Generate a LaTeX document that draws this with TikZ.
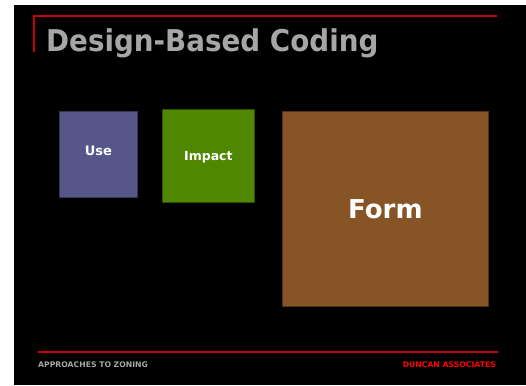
\documentclass[tikz,border=0pt]{standalone}
\usepackage{fontspec}
\setmainfont{DejaVu Sans}
\usetikzlibrary{positioning}
\definecolor{slidered}{HTML}{CC0000}
\definecolor{titlegray}{HTML}{A6A6A6}
\definecolor{usecol}{HTML}{57568A}
\definecolor{impactcol}{HTML}{4F8700}
\definecolor{formcol}{HTML}{875426}
\tikzset{>=latex}
\tikzset{block/.style={anchor=north west,fill=#1,draw=#1!60!black,line width=0.8pt,
    inner sep=0pt,text=white}}

\begin{document}
\begin{tikzpicture}[x=1pt,y=-1pt]
            \fill[white] (0,0) rectangle (526,385);
            \fill[black] (14,5) rectangle (526,385);
            % title bar
            \draw[slidered,line width=1.5pt] (34,52) -- (34,16) -- (497,16);
            \node[anchor=base west,inner sep=0pt,text=titlegray,font=\bfseries\fontsize{30}{30}\selectfont] (title) at (46,52) {\scalebox{0.925}[1]{Design-Based Coding}};
            % blocks
            \node[block=usecol,minimum width=78pt,minimum height=86pt,text depth=8pt,font=\bfseries\fontsize{13}{13}\selectfont] (use) at (59,111) {Use};
            \node[block=impactcol,minimum width=92pt,minimum height=93pt,text depth=-2pt,font=\bfseries\fontsize{12.5}{12.5}\selectfont] (impact) at (162,109) {Impact};
            \node[block=formcol,minimum width=206pt,minimum height=195pt,text depth=-2pt,font=\bfseries\fontsize{26}{26}\selectfont] (form) at (282,111) {Form};
            % footer
            \draw[slidered,line width=1.2pt] (38,352) -- (498,352);
            \node[anchor=base west,inner sep=0pt,text=titlegray,font=\bfseries\fontsize{7.7}{7.7}\selectfont] (topic) at (38,367) {APPROACHES TO ZONING};
            \node[anchor=base east,inner sep=0pt,text=red,font=\bfseries\fontsize{7.7}{7.7}\selectfont] (firm) at (496,367) {DUNCAN ASSOCIATES};
\end{tikzpicture}
\end{document}
